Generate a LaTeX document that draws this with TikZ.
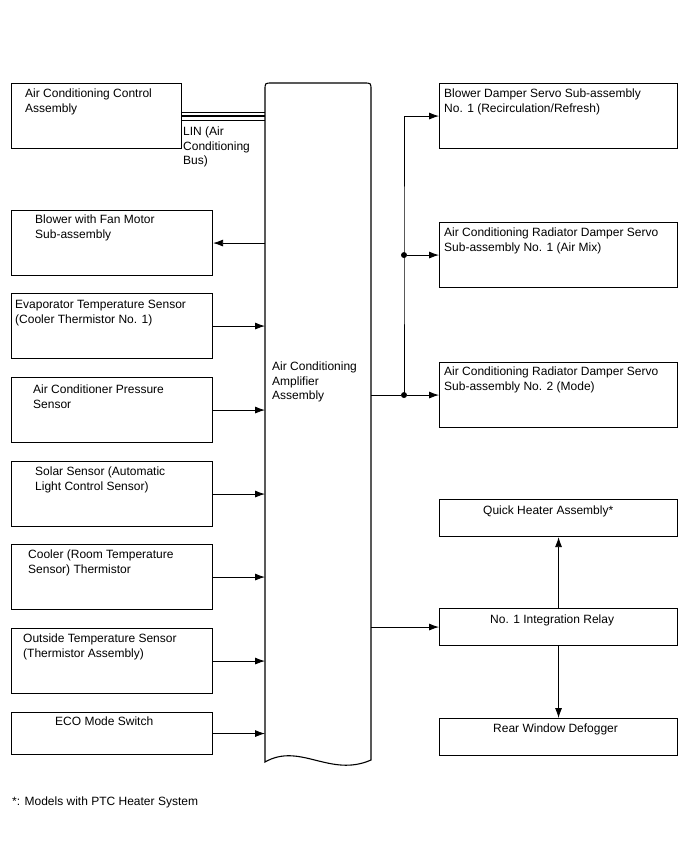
\documentclass[tikz,border=0pt]{standalone}
\usepackage{fontspec}
\setmainfont{Liberation Sans}
\usetikzlibrary{arrows.meta}
\begin{document}
\begin{tikzpicture}[x=1pt,y=-1pt,
  box/.style={draw, line width=1.1pt, inner sep=0, anchor=north west},
  lbl/.style={inner sep=0, anchor=north west, align=left, font=\fontsize{12}{14.5}\selectfont},
  arr/.style={-{Latex[length=10pt,width=7pt]}, line width=0.8pt},
  ln/.style={line width=0.8pt},
  dot/.style={circle, fill, inner sep=0, minimum size=6pt}]
\useasboundingbox (0,0) rectangle (688,852);
% left boxes
\node[box, minimum width=170pt, minimum height=65pt] (ctrl) at (11,83) {};
\node[box, minimum width=201pt, minimum height=65pt] (blow) at (11,210) {};
\node[box, minimum width=201pt, minimum height=65pt] (evap) at (11,293) {};
\node[box, minimum width=201pt, minimum height=65pt] (pres) at (11,377) {};
\node[box, minimum width=201pt, minimum height=65pt] (solar) at (11,461) {};
\node[box, minimum width=201pt, minimum height=65pt] (cool) at (11,544) {};
\node[box, minimum width=201pt, minimum height=65pt] (out) at (11,628) {};
\node[box, minimum width=201pt, minimum height=42pt] (eco) at (11,712) {};
% right boxes
\node[box, minimum width=238pt, minimum height=65pt] (srv1) at (439,83) {};
\node[box, minimum width=238pt, minimum height=65pt] (srv2) at (439,222) {};
\node[box, minimum width=238pt, minimum height=65pt] (srv3) at (439,362) {};
\node[box, minimum width=238pt, minimum height=37pt] (quick) at (439,499) {};
\node[box, minimum width=238pt, minimum height=37pt] (relay) at (439,608) {};
\node[box, minimum width=238pt, minimum height=37pt] (rear) at (439,718) {};
% amplifier
\node[inner sep=0, anchor=north west, minimum width=106pt, minimum height=680pt] (amp) at (265,83) {};
\draw[line width=1.1pt] (265,762) -- (265,90) .. controls (265,83) .. (272,83) -- (364,83)
  .. controls (371,83) .. (371,90) -- (371,760)
  .. controls (330,778) and (300,742) .. (265,762) -- cycle;
% labels
\node[lbl] (tctrl) at (25,89) {Air Conditioning Control\\Assembly};
\node[lbl] (tlin) at (183,127) {LIN (Air\\Conditioning\\Bus)};
\node[lbl] (tblow) at (35,215) {Blower with Fan Motor\\Sub-assembly};
\node[lbl] (tevap) at (15,300) {Evaporator Temperature Sensor\\(Cooler Thermistor No. 1)};
\node[lbl] (tpres) at (33,385) {Air Conditioner Pressure\\Sensor};
\node[lbl] (tsolar) at (35,467) {Solar Sensor (Automatic\\Light Control Sensor)};
\node[lbl] (tcool) at (28,550) {Cooler (Room Temperature\\Sensor) Thermistor};
\node[lbl] (tout) at (23,634) {Outside Temperature Sensor\\(Thermistor Assembly)};
\node[lbl] (teco) at (55,717) {ECO Mode Switch};
\node[lbl] (tamp) at (272,362) {Air Conditioning\\Amplifier\\Assembly};
\node[lbl] (tsrv1) at (444,89) {Blower Damper Servo Sub-assembly\\No. 1 (Recirculation/Refresh)};
\node[lbl] (tsrv2) at (444,228) {Air Conditioning Radiator Damper Servo\\Sub-assembly No. 1 (Air Mix)};
\node[lbl] (tsrv3) at (444,367) {Air Conditioning Radiator Damper Servo\\Sub-assembly No. 2 (Mode)};
\node[lbl] (tquick) at (483,506) {Quick Heater Assembly*};
\node[lbl] (trelay) at (490,615) {No. 1 Integration Relay};
\node[lbl] (trear) at (493,724) {Rear Window Defogger};
\node[lbl] (foot) at (12,797) {*: Models with PTC Heater System};
% LIN bus
\draw[line width=0.7pt] ([yshift=4pt]ctrl.east) -- ([yshift=4pt]ctrl.east -| amp.west);
\draw[line width=2pt] (ctrl.east) -- (ctrl.east -| amp.west);
\draw[line width=0.7pt] ([yshift=-4pt]ctrl.east) -- ([yshift=-4pt]ctrl.east -| amp.west);
% left connectors
\draw[arr] (blow.east -| amp.west) -- (blow.east);
\foreach \b in {evap,pres,solar,cool,out,eco}
  \draw[arr] (\b.east) -- (\b.east -| amp.west);
% right connectors
\coordinate (jx) at (404,0);
\node[dot] (d2) at (jx |- srv3.west) {};
\node[dot] (d1) at (jx |- srv2.west) {};
\draw[ln] (amp.east |- srv3.west) -- (d2);
\draw[arr] (d2) -- (srv3.west);
\draw[arr] (d1) -- (srv2.west);
\draw[arr] (d2.center) -- (d1.center) |- (srv1.west);
\draw[arr] (amp.east |- relay.west) -- (relay.west);
\draw[arr] (relay.north) -- (quick.south);
\draw[arr] (relay.south) -- (rear.north);
\end{tikzpicture}
\end{document}
